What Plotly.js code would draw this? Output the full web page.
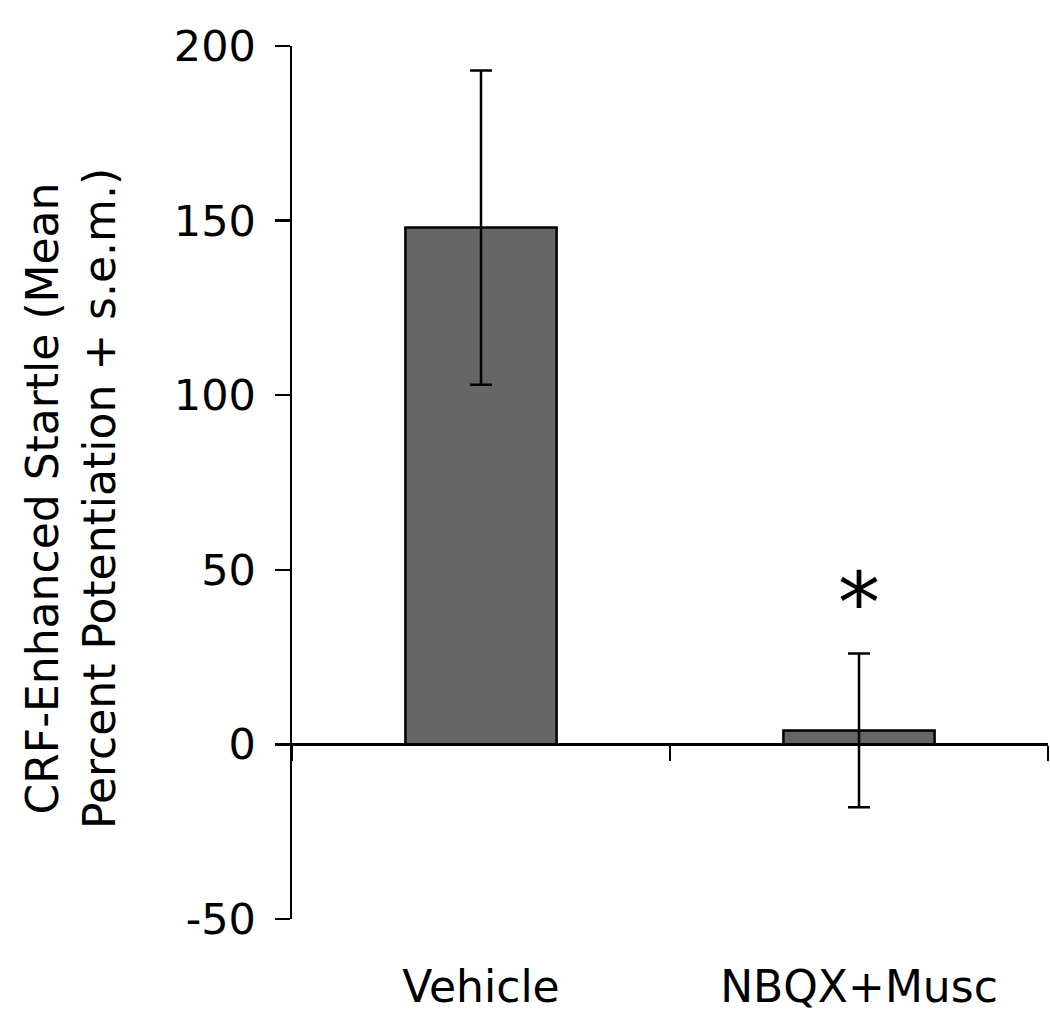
<!DOCTYPE html>
<html>
<head>
<meta charset="utf-8">
<script src="https://cdn.plot.ly/plotly-3.0.1.min.js"></script>
<style>html,body{margin:0;padding:0;background:#fff;}#chart{width:1050px;height:1018px;}</style>
</head>
<body>
<div id="chart"></div>
<script>
const categories = ['Vehicle', 'NBQX+Musc'];
const meanValues = [148, 4];
const semValues = [45, 22];
const yTickValues = [-50, 0, 50, 100, 150, 200];
const yTickLabels = ['-50', '0', '50', '100', '150', '200'];
const yTitle = 'CRF-Enhanced Startle (Mean<br>Percent Potentiation + s.e.m.)';
const sigLabel = '*';
const sigCategory = 'NBQX+Musc';
const sigY = 40.5;

const FONT = 'DejaVu Sans, Verdana, sans-serif';

const traces = [
  {
    type: 'bar',
    x: categories,
    y: meanValues,
    xaxis: 'x',
    yaxis: 'y',
    width: 0.4,
    marker: {color: '#666666', line: {color: '#000000', width: 2.5}},
    error_y: {type: 'data', array: semValues, visible: true, color: '#000000', thickness: 2.5, width: 11},
    hoverinfo: 'skip',
    showlegend: false
  },
  {
    type: 'scatter',
    mode: 'markers',
    x: categories,
    y: meanValues,
    xaxis: 'x2',
    yaxis: 'y',
    marker: {opacity: 0},
    hoverinfo: 'skip',
    showlegend: false
  }
];

const layout = {
  width: 1050,
  height: 1018,
  margin: {l: 292, r: 2, t: 46, b: 99},
  paper_bgcolor: '#ffffff',
  plot_bgcolor: '#ffffff',
  font: {family: FONT, color: '#000000'},
  showlegend: false,
  xaxis: {
    type: 'category',
    categoryorder: 'array',
    categoryarray: categories,
    range: [-0.5, 1.5],
    anchor: 'free',
    position: 0.2,
    showline: true,
    linecolor: '#000000',
    linewidth: 2.5,
    ticks: 'outside',
    tickson: 'boundaries',
    ticklen: 15,
    tickwidth: 2.5,
    tickcolor: '#000000',
    showticklabels: false,
    showgrid: false,
    zeroline: false,
    fixedrange: true
  },
  xaxis2: {
    type: 'category',
    categoryorder: 'array',
    categoryarray: categories,
    range: [-0.5, 1.5],
    overlaying: 'x',
    anchor: 'y',
    side: 'bottom',
    showline: false,
    ticks: '',
    showgrid: false,
    zeroline: false,
    tickfont: {family: FONT, size: 44, color: '#000000'},
    ticklabelstandoff: 38,
    fixedrange: true
  },
  yaxis: {
    range: [-50, 200],
    tickvals: yTickValues,
    ticktext: yTickLabels,
    showline: true,
    linecolor: '#000000',
    linewidth: 2.5,
    ticks: 'outside',
    ticklen: 15,
    tickwidth: 2.5,
    tickcolor: '#000000',
    showgrid: false,
    zeroline: false,
    tickfont: {family: FONT, size: 43, color: '#000000'},
    ticklabelstandoff: 10,
    fixedrange: true
  },
  annotations: [
    {
      x: 71,
      y: 0.481,
      xref: 'paper',
      yref: 'paper',
      xanchor: 'center',
      yanchor: 'middle',
      text: yTitle,
      textangle: -90,
      showarrow: false,
      font: {family: FONT, size: 44, color: '#000000'}
    },
    {
      x: sigCategory,
      y: sigY,
      xref: 'x',
      yref: 'y',
      text: sigLabel,
      showarrow: false,
      font: {family: FONT, size: 84, color: '#000000'},
      xanchor: 'center',
      yanchor: 'middle'
    }
  ]
};
// title x in paper units from pixel 71
layout.annotations[0].x = (71 - 292) / (1050 - 292 - 2);

Plotly.newPlot('chart', traces, layout, {displayModeBar: false, staticPlot: true});
</script>
</body>
</html>
